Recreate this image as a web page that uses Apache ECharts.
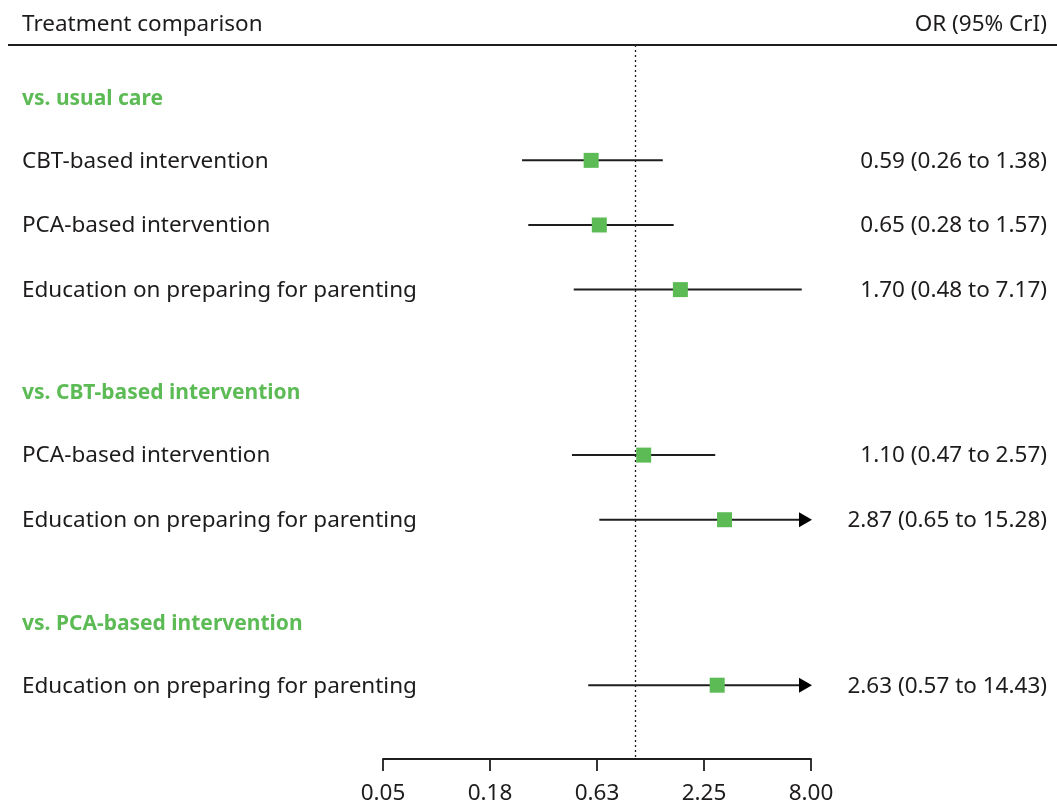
<!DOCTYPE html>
<html><head><meta charset="utf-8">
<script src="https://cdn.jsdelivr.net/npm/echarts@6/dist/echarts.min.js"></script>
<style>html,body{margin:0;padding:0;background:#fff}#c{width:1057px;height:805px}</style>
</head><body><div id="c"></div>
<script>
// ---- data ----
const groups = ['vs. usual care', 'vs. CBT-based intervention', 'vs. PCA-based intervention'];
const rowGroup = [0, 0, 0, 1, 1, 2];
const rowLabels = ['CBT-based intervention', 'PCA-based intervention', 'Education on preparing for parenting',
                   'PCA-based intervention', 'Education on preparing for parenting',
                   'Education on preparing for parenting'];
const orVals = [0.59, 0.65, 1.70, 1.10, 2.87, 2.63];
const lowerVals = [0.26, 0.28, 0.48, 0.47, 0.65, 0.57];
const upperVals = [1.38, 1.57, 7.17, 2.57, 15.28, 14.43];
const tickLabels = ['0.05', '0.18', '0.63', '2.25', '8.00'];
const refValue = 1;

// ---- scale helpers (log scale mapped to tick index space) ----
const axMin = Number(tickLabels[0]), axMax = Number(tickLabels[tickLabels.length - 1]);
const nSteps = tickLabels.length - 1;
const step = Math.pow(axMax / axMin, 1 / nSteps);
const t = v => Math.log(v / axMin) / Math.log(step);

const FONT = 'Noto Sans';
const FS = 22.5;
const TXT = '#1e1b1c';
const GREEN = '#5cbb55';

// build rows (headers + items) with slot positions
const GAP = 1.56;
const rows = [];
let pos = 0;
groups.forEach((g, gi) => {
  if (gi > 0) pos += GAP;
  rows.push({header: true, label: g, pos: pos});
  rowGroup.forEach((rg, i) => {
    if (rg === gi) { pos += 1; rows.push({header: false, idx: i, pos: pos}); }
  });
});

const chart = echarts.init(document.getElementById('c'), null, {renderer: 'canvas'});

function renderItem(params, api) {
  const r = rows[params.dataIndex];
  const y = api.coord([0, r.pos])[1];
  const children = [];
  if (r.header) {
    children.push({type: 'text', style: {x: 22, y: y + 3, text: r.label, fill: GREEN,
      font: 'bold 21px "' + FONT + '"', verticalAlign: 'middle', align: 'left'}});
  } else {
    const i = r.idx;
    children.push({type: 'text', style: {x: 22, y: y + 1, text: rowLabels[i], fill: TXT,
      font: FS + 'px "' + FONT + '"', verticalAlign: 'middle', align: 'left'}});
    const x0 = api.coord([t(lowerVals[i]), r.pos])[0];
    const truncated = upperVals[i] > axMax;
    const xEnd = api.coord([Math.min(t(upperVals[i]), nSteps), r.pos])[0];
    const x1 = truncated ? xEnd - 12 : xEnd;
    children.push({type: 'line', shape: {x1: x0, y1: y, x2: x1, y2: y},
      style: {stroke: '#1e1e1e', lineWidth: 2}});
    if (truncated) {
      children.push({type: 'polygon', shape: {points: [[x1, y - 7.5], [xEnd + 1, y], [x1, y + 7.5]]},
        style: {fill: '#000'}});
    }
    const txt = orVals[i].toFixed(2) + ' (' + lowerVals[i].toFixed(2) + ' to ' + upperVals[i].toFixed(2) + ')';
    children.push({type: 'text', style: {x: 1047, y: y + 1, text: txt, fill: TXT,
      font: FS + 'px "' + FONT + '"', verticalAlign: 'middle', align: 'right'}});
  }
  return {type: 'group', children: children};
}

const yMin = -0.7846, yMax = 10.262;

chart.setOption({
  animation: false,
  backgroundColor: '#fff',
  grid: {left: 383, right: 246, top: 45, bottom: 42},
  xAxis: {
    type: 'value', min: 0, max: nSteps, interval: 1,
    axisLine: {show: true, onZero: false, lineStyle: {color: '#1e1e1e', width: 1.8}},
    axisTick: {show: true, length: 12, lineStyle: {color: '#1e1e1e', width: 1.8}},
    axisLabel: {formatter: v => tickLabels[Math.round(v)], color: TXT, fontSize: FS,
      fontFamily: FONT, margin: 23},
    splitLine: {show: false}
  },
  yAxis: {type: 'value', inverse: true, min: yMin, max: yMax, show: false},
  graphic: [
    {type: 'line', shape: {x1: 8, y1: 45, x2: 1057, y2: 45}, style: {stroke: '#1e1e1e', lineWidth: 2}},
    {type: 'text', x: 22, y: 25, style: {text: 'Treatment comparison', fill: TXT,
      font: FS + 'px "' + FONT + '"', verticalAlign: 'middle', align: 'left'}},
    {type: 'text', x: 1047, y: 25, style: {text: 'OR (95% CrI)', fill: TXT,
      font: FS + 'px "' + FONT + '"', verticalAlign: 'middle', align: 'right'}}
  ],
  series: [
    {
      type: 'custom', renderItem: renderItem, clip: false, z: 2,
      data: rows.map(r => [r.header ? 0 : t(orVals[r.idx]), r.pos])
    },
    {
      type: 'scatter', symbol: 'rect', symbolSize: 15, z: 5,
      itemStyle: {color: GREEN, opacity: 1},
      data: rows.filter(r => !r.header).map(r => [t(orVals[r.idx]), r.pos]),
      markLine: {
        silent: true, symbol: 'none', label: {show: false},
        lineStyle: {type: [2, 3], color: '#1e1e1e', width: 1.3},
        data: [{xAxis: t(refValue)}]
      }
    }
  ]
});
</script></body></html>
